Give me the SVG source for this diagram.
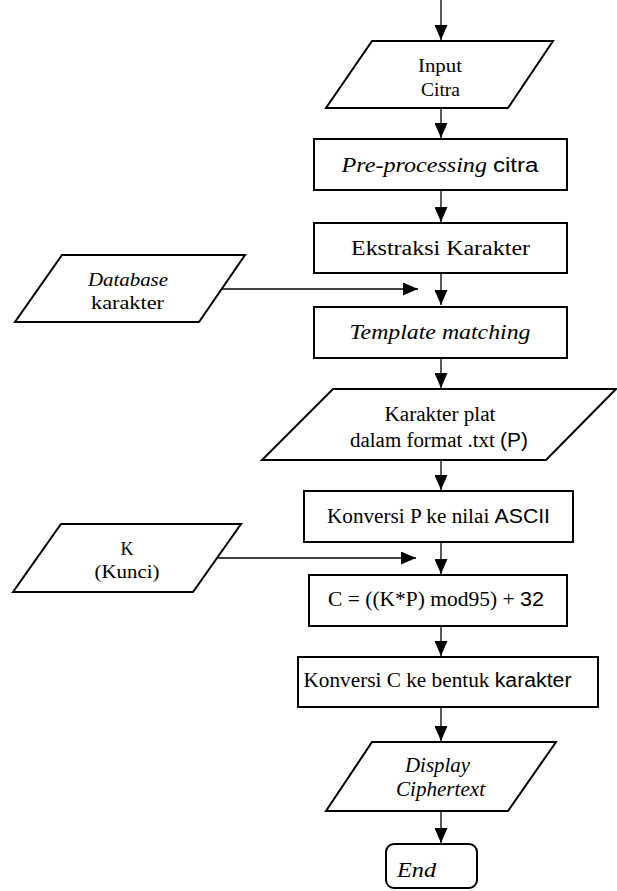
<svg xmlns="http://www.w3.org/2000/svg" width="617" height="891" viewBox="0 0 617 891">
<defs>
<marker id="ah" markerUnits="userSpaceOnUse" markerWidth="15" markerHeight="13" viewBox="0 0 15 13" refX="15" refY="6.5" orient="auto">
<path d="M0,0 L15,6.5 L0,13 z" fill="#000"/>
</marker>
<style>
.s{fill:#fff;stroke:#000;stroke-width:2}
.c{fill:none;stroke:#000;stroke-width:1.3;marker-end:url(#ah)}
text{font-family:"Liberation Serif","Times New Roman",serif;font-size:20px;fill:#000;text-anchor:middle}
.i{font-style:italic}
.a{font-family:"Liberation Sans",Arial,sans-serif}
.m{font-size:19px}
</style>
</defs>
<rect width="617" height="891" fill="#fff"/>
<g id="connectors">
<line class="c" x1="441" y1="0" x2="441" y2="40"/>
<line class="c" x1="441" y1="108" x2="441" y2="138"/>
<line class="c" x1="441" y1="190" x2="441" y2="222"/>
<line class="c" x1="441" y1="273" x2="441" y2="305"/>
<line class="c" x1="222" y1="289" x2="418" y2="289"/>
<line class="c" x1="441" y1="358" x2="441" y2="388"/>
<line class="c" x1="441" y1="460" x2="441" y2="490"/>
<line class="c" x1="441" y1="542" x2="441" y2="574"/>
<line class="c" x1="198" y1="558" x2="416" y2="558"/>
<line class="c" x1="441" y1="626" x2="441" y2="656"/>
<line class="c" x1="441" y1="707" x2="441" y2="741"/>
<line class="c" x1="441" y1="811" x2="441" y2="843"/>
</g>
<g id="input-citra">
<polygon class="s" points="372,41 553,41 508,108 326,108"/>
<text class="m" x="440" y="72" textLength="44" lengthAdjust="spacingAndGlyphs">Input</text>
<text class="m" x="440.5" y="96" textLength="39" lengthAdjust="spacingAndGlyphs">Citra</text>
</g>
<g id="preprocessing">
<rect class="s" x="314" y="139" width="253" height="51"/>
<text x="440" y="172" textLength="197" lengthAdjust="spacingAndGlyphs"><tspan class="i">Pre-processing</tspan> <tspan class="a">citra</tspan></text>
</g>
<g id="ekstraksi">
<rect class="s" x="314" y="223" width="253" height="50"/>
<text x="440.5" y="255" textLength="179" lengthAdjust="spacingAndGlyphs">Ekstraksi Karakter</text>
</g>
<g id="database">
<polygon class="s" points="62,255 245,255 199,322 15,322"/>
<text class="i m" x="128" y="286" textLength="80" lengthAdjust="spacingAndGlyphs">Database</text>
<text class="m" x="127.5" y="309" textLength="73" lengthAdjust="spacingAndGlyphs">karakter</text>
</g>
<g id="template">
<rect class="s" x="314" y="307" width="253" height="51"/>
<text class="i" x="440" y="339" textLength="181" lengthAdjust="spacingAndGlyphs">Template matching</text>
</g>
<g id="karakter-plat">
<polygon class="s" points="333,389 616,389 546,460 262,460"/>
<text x="440" y="421" textLength="111" lengthAdjust="spacingAndGlyphs">Karakter plat</text>
<text x="439" y="447" textLength="178" lengthAdjust="spacingAndGlyphs">dalam format .txt <tspan class="a">(P)</tspan></text>
</g>
<g id="konversi-p">
<rect class="s" x="304" y="491" width="269" height="51"/>
<text x="438.5" y="523" textLength="223" lengthAdjust="spacingAndGlyphs">Konversi P ke nilai <tspan class="a">ASCII</tspan></text>
</g>
<g id="kunci">
<polygon class="s" points="61,524 241,524 193,592 13,592"/>
<text class="m" x="127" y="555" textLength="13" lengthAdjust="spacingAndGlyphs">K</text>
<text class="m" x="127" y="578" textLength="65" lengthAdjust="spacingAndGlyphs">(Kunci)</text>
</g>
<g id="formula">
<rect class="s" x="309" y="575" width="258" height="51"/>
<text x="436" y="606" textLength="216" lengthAdjust="spacingAndGlyphs">C = ((K*P) mod95) + <tspan class="a">32</tspan></text>
</g>
<g id="konversi-c">
<rect class="s" x="298" y="657" width="300" height="50"/>
<text x="437.5" y="687" textLength="268" lengthAdjust="spacingAndGlyphs">Konversi C ke bentuk <tspan class="a">karakter</tspan></text>
</g>
<g id="display">
<polygon class="s" points="372,742 556,742 508,811 326,811"/>
<text class="i" x="437.5" y="772" textLength="65" lengthAdjust="spacingAndGlyphs">Display</text>
<text class="i" x="440.5" y="796" textLength="89" lengthAdjust="spacingAndGlyphs">Ciphertext</text>
</g>
<g id="end">
<rect class="s" x="386" y="844" width="91" height="44" rx="8" ry="8"/>
<text class="i" x="416.5" y="877" textLength="39" lengthAdjust="spacingAndGlyphs">End</text>
</g>
</svg>
